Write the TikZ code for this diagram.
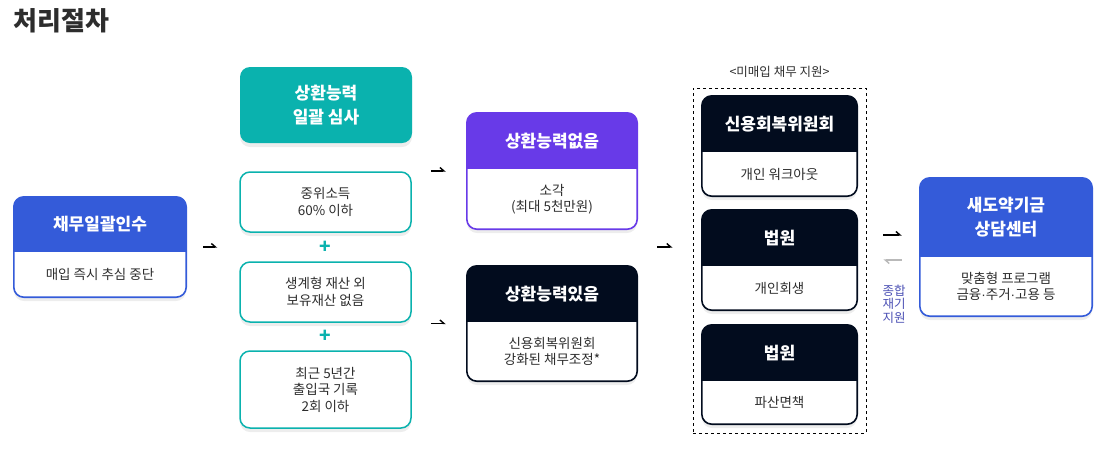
\documentclass[tikz,border=0pt]{standalone}
\usepackage{fontspec}
\setmainfont{Noto Sans CJK KR}
\newfontfamily\dotfont{Liberation Sans}
\usetikzlibrary{arrows.meta,calc,shadows}
\definecolor{myblue}{RGB}{52,91,217}
\definecolor{myteal}{RGB}{10,178,174}
\definecolor{mypurple}{RGB}{104,58,232}
\definecolor{mynavy}{RGB}{2,12,30}
\definecolor{mytext}{RGB}{45,45,45}
\definecolor{myviolet}{RGB}{75,80,180}
\definecolor{mygray}{RGB}{185,185,185}
\newcommand{\mdot}{{\dotfont ·}}

\begin{document}
\begin{tikzpicture}[x=1pt,y=-1pt,
  softshadow/.style={drop shadow={shadow xshift=0pt,shadow yshift=-4pt,opacity=0.07,fill=black}},
  card/.style={fill=white,rounded corners=10pt,inner sep=0pt,softshadow},
  hdrtxt/.style={text=white,font=\bfseries\fontsize{17}{24}\selectfont,align=center},
  bodytxt/.style={text=mytext,font=\fontsize{13.5}{16.5}\selectfont,align=center},
  harp/.style={-{Straight Barb[left,length=4pt,width=7pt]},line width=1.4pt}
]
\useasboundingbox (0,0) rectangle (1109,467);

% title
\node[anchor=west,text=mytext,font=\bfseries\fontsize{26}{28}\selectfont] (title) at (10,21) {처리절차};

% review step
\node[card,fill=myteal,minimum width=172,minimum height=76,hdrtxt] (review) at (326,105) {상환능력\\일괄 심사};
\foreach \n/\cy/\h/\txt in {
  inc/202/60/{중위소득\\60\% 이하},
  asset/292/60/{생계형 재산 외\\보유재산 없음},
  trip/389.5/77/{최근 5년간\\출입국 기록\\2회 이하}}{
  \node[card,draw=myteal,line width=1.5pt,minimum width=171,minimum height=\h,bodytxt] (\n) at (325.5,\cy) {\txt};
}
\node[text=myteal,font=\bfseries\fontsize{19}{19}\selectfont] (plusA) at ($(inc.south)!0.5!(asset.north)$) {+};
\node[text=myteal,font=\bfseries\fontsize{19}{19}\selectfont] (plusB) at ($(asset.south)!0.5!(trip.north)$) {+};

% unpurchased debt support
\node[draw,dashed,line width=0.8pt,minimum width=173,minimum height=345,inner sep=0pt] (support) at (779.5,260.5) {};
\node[bodytxt,font=\fontsize{12.5}{14}\selectfont] (supportlbl) at ($(support.north)+(0,-16)$) {<미매입 채무 지원>};

% cards with header
\foreach \n/\cx/\cy/\w/\h/\hh/\col/\ttl/\bdy in {
  take/100/247/172/100/55/myblue/{채무일괄인수}/{매입 즉시 추심 중단},
  none/552/171/170/116/56/mypurple/{상환능력없음}/{소각\\(최대 5천만원)},
  able/552/323.5/170/115/56/mynavy/{상환능력있음}/{신용회복위원회\\강화된 채무조정*},
  ccrs/779.5/146/155/100/56/mynavy/{신용회복위원회}/{개인 워크아웃},
  rehab/779.5/260/155/100/56/mynavy/{법원}/{개인회생},
  bankr/779.5/374.5/155/99/56/mynavy/{법원}/{파산면책},
  center/1006/247/172/138/79/myblue/{새도약기금\\상담센터}/{맞춤형 프로그램\\금융\mdot 주거\mdot 고용 등}}{
  \node[card,minimum width=\w,minimum height=\h] (\n) at (\cx,\cy) {};
  \begin{scope}
    \clip[rounded corners=10pt] (\n.south west) rectangle (\n.north east);
    \fill[\col] (\n.north west) rectangle ([yshift=-\hh]\n.north east);
  \end{scope}
  \draw[\col,line width=1.6pt,rounded corners=10pt] (\n.south west) rectangle (\n.north east);
  \node[hdrtxt] at ([yshift=-\hh/2]\n.north) {\ttl};
  \node[bodytxt] at ($(\n.south)!0.5!([yshift=-\hh]\n.north)$) {\bdy};
}

% connectors
\draw[harp,shorten <=17pt,shorten >=22pt] (take.east) -- (take.east -| inc.west);
\draw[harp,shorten <=19pt,shorten >=21pt] (none.west -| inc.east) -- (none.west);
\draw[harp,shorten <=19pt,shorten >=21pt] (able.west -| inc.east) -- (able.west);
\draw[harp,shorten <=20pt,shorten >=20pt] (none.east |- take.east) -- (support.west |- take.east);
\draw[harp,shorten <=17pt,shorten >=18pt] ($(support.east |- center.west)+(0,-12)$) -- ($(center.west)+(0,-12)$);
\draw[harp,mygray,shorten <=18pt,shorten >=17pt] ($(center.west)+(0,13)$) -- ($(support.east |- center.west)+(0,13)$);
\node[text=myviolet,font=\fontsize{12.5}{13.5}\selectfont,align=center] (rejoin) at (894,304) {종합\\재기\\지원};

\end{tikzpicture}
\end{document}
